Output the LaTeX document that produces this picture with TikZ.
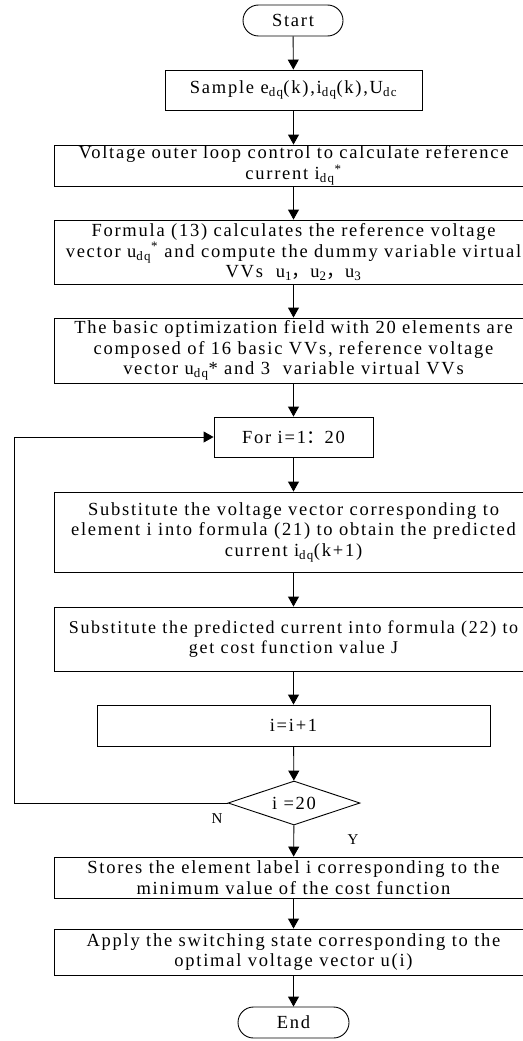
\documentclass[tikz,border=0pt]{standalone}
\usepackage{fontspec}
\setmainfont{Liberation Serif}[LetterSpace=9.5]
\newfontfamily\cjk{Noto Sans CJK SC}
\usetikzlibrary{shapes.geometric,shapes.misc,arrows.meta}
\newcommand\fsz{\fontsize{18.5}{20.5}\selectfont}
\newcommand\fszb{\fontsize{18}{20.5}\selectfont}
\tikzset{
  box/.style={draw, line width=0.9pt, rectangle, inner sep=0pt, align=center, font=\fsz},
  term/.style={draw, line width=0.9pt, rounded rectangle, inner sep=0pt, font=\fsz},
  dec/.style={draw, line width=0.9pt, diamond, aspect=3, inner sep=0pt, font=\fsz},
  flow/.style={line width=0.9pt, -{Triangle[length=10pt,width=11pt]}},
  lbl/.style={font=\fontsize{15}{17}\selectfont}
}
\begin{document}
\begin{tikzpicture}[x=1pt,y=-1pt]
\useasboundingbox (0,0) rectangle (522,1041);
\node[term, minimum width=100pt, minimum height=31pt] (start) at (293,20.5) {Start};
\node[box, minimum width=257pt, minimum height=40pt] (sample) at (293.5,90) {Sample e\textsubscript{dq}(k),i\textsubscript{dq}(k),U\textsubscript{dc}};
\node[box, minimum width=478pt, minimum height=41pt] (volt) at (293.5,165.5) {Voltage outer loop control to calculate reference\\current i\textsubscript{dq}\textsuperscript{*}};
\node[box, minimum width=478pt, minimum height=64pt] (form) at (293.5,252) {Formula (13) calculates the reference voltage\\vector u\textsubscript{dq}\textsuperscript{*} and compute the dummy variable virtual\\VVs\ \ u\textsubscript{1}{\cjk ，}u\textsubscript{2}{\cjk ，}u\textsubscript{3}};
\node[box, minimum width=478pt, minimum height=65pt] (basic) at (293.5,350.5) {The basic optimization field with 20 elements are\\composed of 16 basic VVs, reference voltage\\vector u\textsubscript{dq}* and 3\ \ variable virtual VVs};
\node[box, minimum width=159pt, minimum height=40pt] (for) at (293.5,437) {For i=1{\cjk ：}20};
\node[box, minimum width=478pt, minimum height=80pt] (sub1) at (293.5,532) {Substitute the voltage vector corresponding to\\element i into formula (21) to obtain the predicted\\current i\textsubscript{dq}(k+1)};
\node[box, minimum width=478pt, minimum height=64pt, font=\fszb] (sub2) at (293.5,639) {Substitute the predicted current into formula (22) to\\get cost function value J};
\node[box, minimum width=393pt, minimum height=41pt] (inc) at (293.5,725.5) {i=i+1};
\node[dec, minimum width=132pt, minimum height=44pt] (chk) at (294,803) {i =20};
\node[box, minimum width=478pt, minimum height=41pt] (store) at (293.5,877.5) {Stores the element label i corresponding to the\\minimum value of the cost function};
\node[box, minimum width=478pt, minimum height=46pt] (apply) at (293.5,952) {Apply the switching state corresponding to the\\optimal voltage vector u(i)};
\node[term, minimum width=111pt, minimum height=31pt] (end) at (293.5,1022.5) {End};
\draw[flow] (start) -- (sample);
\draw[flow] (sample) -- (volt);
\draw[flow] (volt) -- (form);
\draw[flow] (form) -- (basic);
\draw[flow] (basic) -- (for);
\draw[flow] (for) -- (sub1);
\draw[flow] (sub1) -- (sub2);
\draw[flow] (sub2) -- (inc);
\draw[flow] (inc) -- (chk);
\draw[flow] (chk) -- (store);
\draw[flow] (store) -- (apply);
\draw[flow] (apply) -- (end);
\coordinate (lb) at (14,803);
\coordinate (lt) at (14,437);
\draw[flow] (chk.west) -- (lb) -- (lt) -- (for.west);
\node[lbl] (nlab) at (217,819) {N};
\node[lbl] (ylab) at (353,840) {Y};
\end{tikzpicture}
\end{document}
